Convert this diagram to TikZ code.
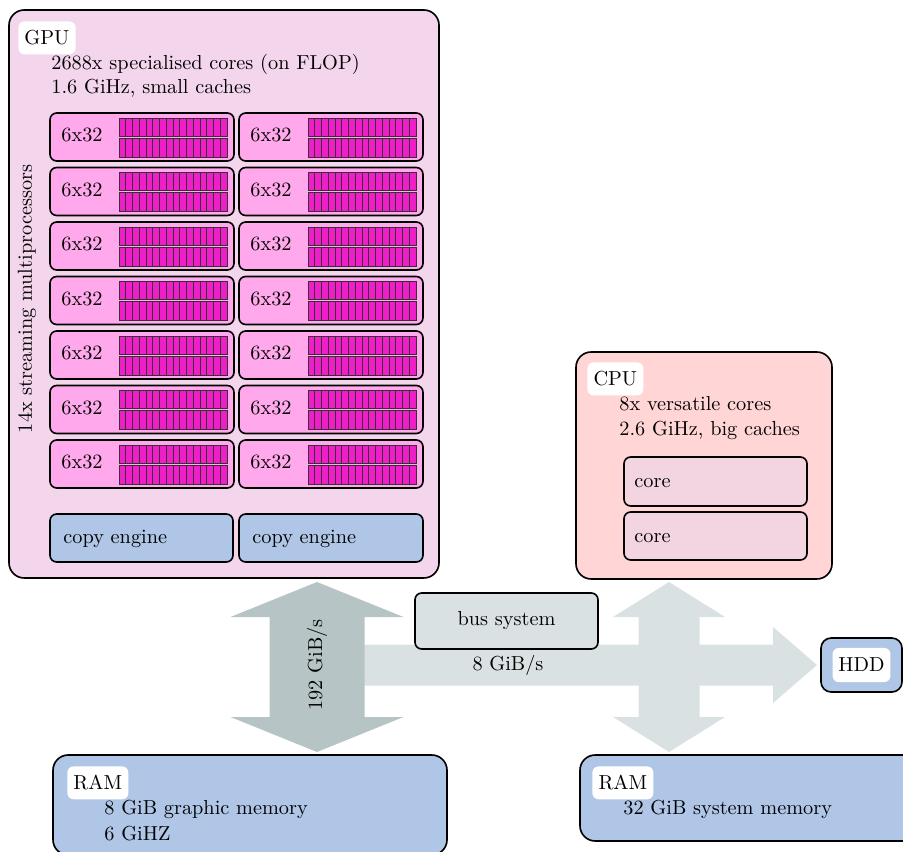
\documentclass[tikz,border=0pt]{standalone}
\usetikzlibrary{calc,fit}
\definecolor{gpufill}{RGB}{244,214,236}
\definecolor{smfill}{RGB}{255,168,236}
\definecolor{corebar}{RGB}{240,30,200}
\definecolor{memfill}{RGB}{176,198,230}
\definecolor{cpufill}{RGB}{255,213,213}
\definecolor{cpucore}{RGB}{242,213,224}
\definecolor{buslight}{RGB}{217,225,227}
\definecolor{busdark}{RGB}{182,196,198}

% vertical double block arrow: style, top tip, bottom tip, half head, half shaft, head length
\newcommand\vblockarrow[6]{%
  \fill[#1] (#2) -- ($(#2)+(#4,#6)$) -- ($(#2)+(#5,#6)$) -- ($(#3)+(#5,-#6)$)
    -- ($(#3)+(#4,-#6)$) -- (#3) -- ($(#3)+(-#4,-#6)$) -- ($(#3)+(-#5,-#6)$)
    -- ($(#2)+(-#5,#6)$) -- ($(#2)+(-#4,#6)$) -- cycle;}
% horizontal single block arrow: style, tail, tip, half head, half shaft, head length
\newcommand\hblockarrow[6]{%
  \fill[#1] ($(#2)+(0,-#5)$) -- ($(#3)+(-#6,-#5)$) -- ($(#3)+(-#6,-#4)$) -- (#3)
    -- ($(#3)+(-#6,#4)$) -- ($(#3)+(-#6,#5)$) -- ($(#2)+(0,#5)$) -- cycle;}

\begin{document}
\begin{tikzpicture}[x=0.493pt,y=-0.493pt,
  unit/.style={draw=black, line width=0.8pt, rounded corners=#1, inner sep=0pt},
  unit/.default=3.3pt,
  tag/.style={fill=white, rounded corners=3pt, inner xsep=3pt, inner ysep=0pt,
    minimum height=16.2pt, anchor=north west},
  txt/.style={anchor=base west, inner sep=0pt},
  bar/.style={fill=corebar, draw=black!80, line width=0.4pt}]
\useasboundingbox (0,0) rectangle (903,852);

% ---- bus arrows ----
\coordinate (bustail) at (317,665);
\coordinate (bustip) at (817,665);
\coordinate (sysup) at (669,582);
\coordinate (sysdown) at (669,752);
\coordinate (gfxup) at (317,582);
\coordinate (gfxdown) at (317,752);
\hblockarrow{buslight}{bustail}{bustip}{38}{20.5}{44}
\vblockarrow{buslight}{sysup}{sysdown}{56}{30.5}{35}
\vblockarrow{busdark}{gfxup}{gfxdown}{86.5}{47.5}{35}
\node[rotate=90, inner sep=0pt] (gfxrate) at (317,665) {192 GiB/s};
\node[inner sep=0pt] (sysrate) at (508,665) {8 GiB/s};

\node[unit, fill=buslight, fit={(415,593) (598,649)}] (bus) {};
\node[inner sep=0pt] (buslbl) at (bus.center) {bus system};

% ---- GPU ----
\node[unit=7.5pt, fill=gpufill, fit={(9,10) (439,578)}] (gpu) {};
\node[tag] (gputag) at (18,21) {GPU};
\node[txt] (gpul1) at (51,70) {2688x specialised cores (on FLOP)};
\node[txt] (gpul2) at (51,94) {1.6 GiHz, small caches};
\node[rotate=90, inner sep=0pt] (smlbl) at (27,299) {14x streaming multiprocessors};

\foreach \r in {0,...,6}{
  \foreach \c/\x in {0/50,1/239}{
    \pgfmathsetmacro\t{113+54.5*\r}
    \node[unit, fill=smfill, fit={(\x,\t) (\x+184,\t+48)}] (sm-\r-\c) {};
    \node[txt] (smtxt-\r-\c) at (\x+11,\t+29) {6x32};
    \foreach \k in {0,...,15}{
      \draw[bar] (\x+69+6.75*\k,\t+5) rectangle (\x+69+6.75*\k+6.75,\t+23);
      \draw[bar] (\x+69+6.75*\k,\t+25) rectangle (\x+69+6.75*\k+6.75,\t+44);
    }
  }
}

\node[unit, fill=memfill, fit={(50,514) (233,562)}] (ce1) {};
\node[txt] (ce1txt) at (63,543) {copy engine};
\node[unit, fill=memfill, fit={(239,514) (423,562)}] (ce2) {};
\node[txt] (ce2txt) at (252,543) {copy engine};

% ---- CPU ----
\node[unit=7.5pt, fill=cpufill, fit={(576,352) (832,579)}] (cpu) {};
\node[tag] (cputag) at (587,362) {CPU};
\node[txt] (cpul1) at (619,411) {8x versatile cores};
\node[txt] (cpul2) at (619,436) {2.6 GiHz, big caches};
\node[unit, fill=cpucore, fit={(624,457) (807,506)}] (core1) {};
\node[txt] (core1txt) at (634,488) {core};
\node[unit, fill=cpucore, fit={(624,512) (807,560)}] (core2) {};
\node[txt] (core2txt) at (634,542) {core};

% ---- HDD ----
\node[unit=5pt, fill=memfill, fit={(821,638) (902,692)}] (hdd) {};
\node[fill=white, rounded corners=3pt, inner sep=0pt, minimum width=28.5pt,
  minimum height=16.8pt] (hddtxt) at (hdd.center) {HDD};

% ---- memories ----
\node[unit=7.5pt, fill=memfill, fit={(53,755) (447,855)}] (gram) {};
\node[tag] (gramtag) at (67,766) {RAM};
\node[txt] (graml1) at (104,814) {8 GiB graphic memory};
\node[txt] (graml2) at (104,840) {6 GiHZ};

\node[unit=7.5pt, fill=memfill, fit={(580,755) (940,841)}] (sram) {};
\node[tag] (sramtag) at (592,766) {RAM};
\node[txt] (sraml1) at (623,814) {32 GiB system memory};
\end{tikzpicture}
\end{document}
